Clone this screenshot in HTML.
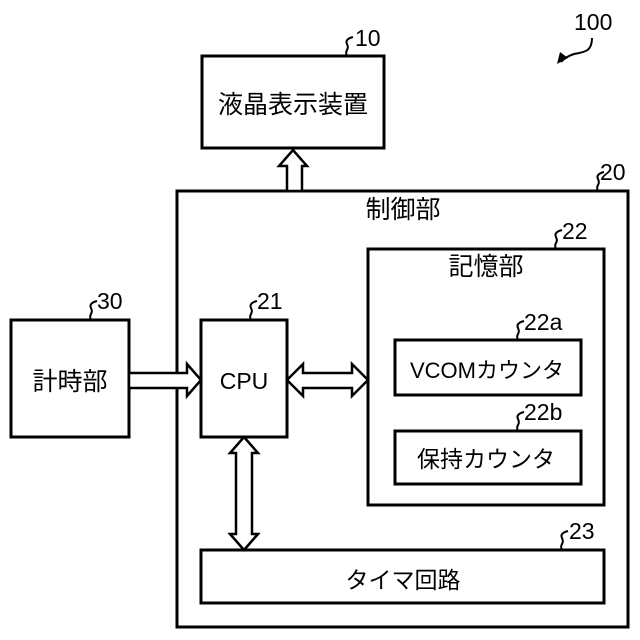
<!DOCTYPE html>
<html><head><meta charset="utf-8"><style>
body{margin:0;background:#fff}
svg{display:block}
text{font-family:"Liberation Sans","Noto Sans CJK JP",sans-serif;fill:#000}
.j{font-size:22px;text-anchor:middle}
.k{font-size:25px;text-anchor:middle}
.n{font-size:23px;font-family:"Liberation Sans Narrow","Liberation Sans",sans-serif;font-stretch:condensed}
</style></head><body>
<svg width="640" height="640" viewBox="0 0 640 640" xmlns="http://www.w3.org/2000/svg">
<g fill="none" stroke="#000" stroke-width="3">
<rect x="202" y="56" width="182" height="92"/>
<rect x="177" y="191" width="451" height="436"/>
<rect x="368" y="249" width="236" height="256"/>
<rect x="395" y="340" width="186" height="55"/>
<rect x="395" y="431" width="186" height="53"/>
<rect x="201" y="550" width="403" height="53"/>
<rect x="11" y="320" width="118" height="117"/>
<rect x="201" y="320" width="86" height="117"/>
</g>
<g fill="#fff" stroke="#000" stroke-width="2.5" stroke-linejoin="miter">
<polygon points="287,191 287,166 279,166 293,150 307,166 302,166 302,191"/>
<polygon points="129,373 187,373 187,364 201,380 187,396 187,388 129,388"/>
<polygon points="287,380 303,364 303,373 352,373 352,364 368,380 352,396 352,388 303,388 303,396"/>
<polygon points="244,437 258,453 252,453 252,534 258,534 244,550 230,534 236,534 236,453 230,453"/>
</g>
<g fill="none" stroke="#000" stroke-width="2">
<path d="M347,56 c-3,-6 3,-6 0,-12 c-2,-4 2,-6 6,-7"/>
<path d="M598,191 c-3,-6 3,-6 0,-12 c-2,-4 2,-6 6,-7"/>
<path d="M556,249 c-3,-6 3,-6 0,-12 c-2,-4 2,-6 6,-7"/>
<path d="M91,320 c-3,-6 3,-6 0,-12 c-2,-4 2,-6 6,-7"/>
<path d="M251,320 c-3,-6 3,-6 0,-12 c-2,-4 2,-6 6,-7"/>
<path d="M518,340 c-3,-6 3,-6 0,-12 c-2,-4 2,-6 6,-7"/>
<path d="M518,431 c-3,-6 3,-6 0,-12 c-2,-4 2,-6 6,-7"/>
<path d="M562,550 c-3,-6 3,-6 0,-12 c-2,-4 2,-6 6,-7"/>
<path d="M592,38 c0,14 -8,14 -18,16 c-6,2 -10,4 -13,8"/>
</g>
<polygon points="557,64 560,52 568,58" fill="#000"/>
<text class="n" x="355" y="46">10</text>
<text class="n" x="574" y="30">100</text>
<text class="n" x="600" y="180">20</text>
<text class="n" x="562" y="239">22</text>
<text class="n" x="97" y="309">30</text>
<text class="n" x="257" y="309">21</text>
<text class="n" x="524" y="330">22a</text>
<text class="n" x="524" y="420">22b</text>
<text class="n" x="569" y="539">23</text>
<text class="k" x="293" y="113">液晶表示装置</text>
<text class="k" x="403" y="218">制御部</text>
<text class="k" x="486" y="275">記憶部</text>
<text class="k" x="70" y="390">計時部</text>
<text class="j" x="244" y="389" style="font-size:23px">CPU</text>
<text class="j" x="487" y="378">VCOMカウンタ</text>
<text class="j" x="486" y="467" style="font-size:23px">保持カウンタ</text>
<text class="j" x="403" y="588" style="font-size:23px">タイマ回路</text>
</svg>
</body></html>
